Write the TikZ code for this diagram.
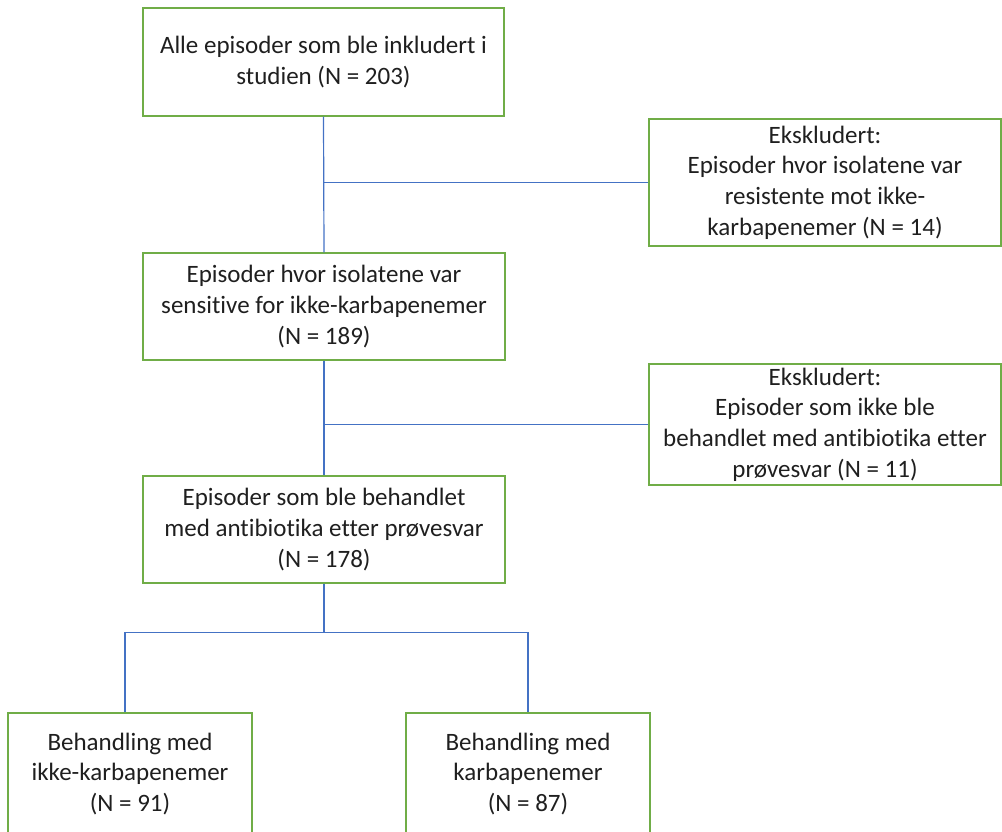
\documentclass[tikz,border=0pt]{standalone}
\usepackage{fontspec}
\setmainfont{Carlito}[Ligatures=NoCommon]
\definecolor{boxgreen}{HTML}{70AD47}
\definecolor{linkblue}{HTML}{4472C4}
\begin{document}
\begin{tikzpicture}[x=1pt,y=-1pt,
  box/.style={draw=boxgreen,line width=1.4pt,align=center,inner sep=0pt,text=black!88,font=\fontsize{25}{30.7}\selectfont},
  link/.style={draw=linkblue,line width=1.2pt}]
\useasboundingbox (0,0) rectangle (1002,831); \clip (0,0) rectangle (1002,831);
\node[box,minimum width=361pt,minimum height=108pt] (alle) at (323.5,62) {Alle episoder som ble inkludert i\\studien (N = 203)};
\node[box,minimum width=362pt,minimum height=107pt] (sens) at (324,306.5) {Episoder hvor isolatene var\\sensitive for ikke-karbapenemer\\(N = 189)};
\node[box,minimum width=362pt,minimum height=107pt] (beh) at (324,529.5) {Episoder som ble behandlet\\med antibiotika etter prøvesvar\\(N = 178)};
\node[box,minimum width=352pt,minimum height=127pt] (ekskl1) at (825,182.5) {Ekskludert:\\Episoder hvor isolatene var\\resistente mot ikke-\\karbapenemer (N = 14)};
\node[box,minimum width=352pt,minimum height=121pt] (ekskl2) at (825,424.5) {Ekskludert:\\Episoder som ikke ble\\behandlet med antibiotika etter\\prøvesvar (N = 11)};
\node[box,minimum width=244pt,minimum height=122pt] (ikke) at (130,774) {Behandling med\\ikke-karbapenemer\\(N = 91)};
\node[box,minimum width=244pt,minimum height=122pt] (karb) at (528,774) {Behandling med\\karbapenemer\\(N = 87)};
\draw[link] (alle.south) -- (sens.north); \draw[link] (alle.south |- ekskl1.west) -- (ekskl1.west);
\draw[link] (sens.south) -- (beh.north); \draw[link] (sens.south |- ekskl2.west) -- (ekskl2.west);
\path (beh.south) ++(0,49) coordinate (split); \draw[link] (beh.south) -- (split);
\draw[link] ([xshift=-5pt]ikke.north) |- (split) -| (karb.north);
\end{tikzpicture}
\end{document}
